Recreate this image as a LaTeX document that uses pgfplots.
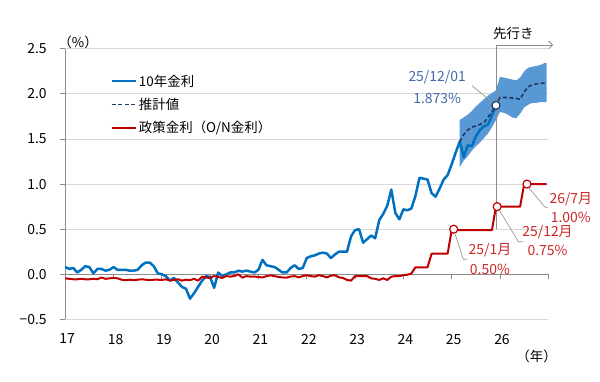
\documentclass[border=0pt]{standalone}
\usepackage{fontspec}
\setmainfont{Noto Sans CJK JP}
\usepackage{pgfplots}
\pgfplotsset{compat=1.18}
\usepgfplotslibrary{fillbetween}
\usetikzlibrary{arrows.meta}
\definecolor{lineblue}{RGB}{0,112,192}
\definecolor{bandblue}{RGB}{88,152,212}
\definecolor{navy}{RGB}{31,56,100}
\definecolor{polred}{RGB}{192,0,0}
\definecolor{txtred}{RGB}{204,40,40}
\definecolor{txtblue}{RGB}{70,105,170}
\definecolor{gridgray}{RGB}{217,217,217}
\definecolor{axgray}{RGB}{140,140,140}
\definecolor{leadgray}{RGB}{150,150,150}

\pgfplotstableread{
m v
0 0.08
1 0.06
2 0.07
3 0.02
4 0.05
5 0.09
6 0.08
7 0.01
8 0.06
9 0.06
10 0.04
11 0.05
12 0.08
13 0.05
14 0.05
15 0.05
16 0.04
17 0.04
18 0.05
19 0.10
20 0.13
21 0.13
22 0.09
23 0.01
24 0.00
25 -0.02
26 -0.07
27 -0.04
28 -0.09
29 -0.14
30 -0.16
31 -0.27
32 -0.21
33 -0.14
34 -0.07
35 -0.02
36 -0.03
37 -0.15
38 0.02
39 -0.02
40 0.00
41 0.02
42 0.02
43 0.04
44 0.03
45 0.04
46 0.03
47 0.02
48 0.05
49 0.16
50 0.10
51 0.09
52 0.08
53 0.05
54 0.02
55 0.02
56 0.07
57 0.10
58 0.06
59 0.07
60 0.18
61 0.20
62 0.21
63 0.23
64 0.24
65 0.23
66 0.18
67 0.22
68 0.25
69 0.25
70 0.25
71 0.42
72 0.49
73 0.50
74 0.35
75 0.39
76 0.43
77 0.40
78 0.60
79 0.67
80 0.76
81 0.94
82 0.68
83 0.61
84 0.72
85 0.71
86 0.73
87 0.87
88 1.07
89 1.06
90 1.05
91 0.90
92 0.86
93 0.95
94 1.05
95 1.10
96 1.22
97 1.35
98 1.47
99 1.30
100 1.43
101 1.42
102 1.53
103 1.60
104 1.64
105 1.66
106 1.76
107 1.873
}\tenyear

\pgfplotstableread{
m v lo up
98 1.47 1.19 1.71
99 1.55 1.26 1.74
100 1.60 1.31 1.77
101 1.63 1.37 1.81
102 1.645 1.42 1.86
103 1.66 1.46 1.90
104 1.68 1.51 1.94
105 1.74 1.56 1.98
106 1.80 1.63 2.01
107 1.873 1.71 2.04
108 1.96 1.80 2.19
109 1.96 1.79 2.18
110 1.96 1.77 2.17
111 1.955 1.74 2.16
112 1.95 1.73 2.15
113 1.94 1.78 2.18
114 2.02 1.85 2.25
115 2.08 1.88 2.29
116 2.10 1.90 2.30
117 2.11 1.90 2.31
118 2.12 1.91 2.32
119 2.12 1.91 2.34
119.6 2.12 1.91 2.34
}\forecast

\pgfplotstableread{
m v
0 -0.045
1 -0.05
2 -0.055
3 -0.055
4 -0.05
5 -0.055
6 -0.055
7 -0.05
8 -0.055
9 -0.035
10 -0.05
11 -0.045
12 -0.04
13 -0.045
14 -0.06
15 -0.065
16 -0.06
17 -0.065
18 -0.06
19 -0.055
20 -0.06
21 -0.065
22 -0.06
23 -0.06
24 -0.063
25 -0.055
26 -0.07
27 -0.063
28 -0.055
29 -0.07
30 -0.06
31 -0.065
32 -0.05
33 -0.07
34 -0.026
35 -0.037
36 -0.04
37 -0.019
38 -0.03
39 -0.04
40 -0.02
41 -0.026
42 -0.019
43 0.00
44 -0.037
45 -0.02
46 -0.026
47 -0.025
48 -0.03
49 -0.035
50 -0.02
51 -0.012
52 -0.02
53 -0.03
54 -0.035
55 -0.037
56 -0.025
57 -0.02
58 -0.034
59 -0.02
60 -0.01
61 -0.02
62 -0.026
63 -0.01
64 -0.02
65 -0.034
66 -0.015
67 -0.01
68 -0.034
69 -0.04
70 -0.063
71 -0.07
72 -0.02
73 -0.02
74 -0.02
75 -0.02
76 -0.045
77 -0.05
78 -0.063
79 -0.045
80 -0.063
81 -0.026
82 -0.02
83 -0.02
84 -0.01
85 -0.005
86 0.01
87 0.078
88 0.077
89 0.077
90 0.078
91 0.227
92 0.23
93 0.23
94 0.23
95 0.23
96 0.49
97 0.49
98 0.49
99 0.49
100 0.49
101 0.49
102 0.49
103 0.49
104 0.49
105 0.49
106 0.49
107 0.75
108 0.75
109 0.75
110 0.75
111 0.75
112 0.75
113 0.75
114 1.00
115 1.00
116 1.00
117 1.00
118 1.00
119 1.00
119.6 1.00
}\policy

\begin{document}
\begin{tikzpicture}
\begin{axis}[
  at={(65.2bp,62.6bp)}, anchor=south west,
  scale only axis, width=483.1bp, height=270.6bp,
  xmin=0, xmax=120, ymin=-0.5, ymax=2.5,
  clip=false,
  axis x line*=bottom, axis y line*=left,
  x axis line style={draw=none},
  y axis line style={axgray, line width=0.8bp},
  xtick={0,12,...,108},
  xticklabels={17,18,19,20,21,22,23,24,25,26},
  xtick style={draw=none},
  ytick={-0.5,0,0.5,1,1.5,2,2.5},
  yticklabels={−0.5,0.0,0.5,1.0,1.5,2.0,2.5},
  ytick style={axgray, line width=0.8bp},
  tick align=outside, major tick length=5bp,
  ymajorgrids, grid style={gridgray, line width=0.8bp},
  ticklabel style={font=\fontsize{14}{16}\selectfont, text=black},
  xticklabel style={xshift=2bp, yshift=-6bp},
  yticklabel style={xshift=-10bp},
  legend style={at={(0.0933,0.912)}, anchor=north west, draw=none, fill=none,
    font=\fontsize{13.5}{15}\selectfont, row sep=6.5bp, inner sep=0pt,
    nodes={inner sep=2bp}},
  legend cell align=left,
  legend image code/.code={\draw[#1] (0bp,0bp) -- (24bp,0bp);},
]
% zero axis line with ticks
\draw[axgray, line width=0.8bp] (axis cs:0,0) -- (axis cs:120,0);
\pgfplotsinvokeforeach{12,24,36,48,60,72,84,96,108,120}{
  \draw[axgray, line width=0.8bp] (axis cs:#1,0) -- ([yshift=-5bp]axis cs:#1,0);
}
% forecast band
\addplot[name path=up, draw=none, forget plot] table[x=m, y=up] {\forecast};
\addplot[name path=lo, draw=none, forget plot] table[x=m, y=lo] {\forecast};
\addplot[bandblue, forget plot] fill between[of=up and lo];
% forecast divider
\draw[axgray, line width=0.8bp, -{Straight Barb[length=4bp,width=8bp]}]
  (axis cs:107,0.5) -- (axis cs:107,2.542) -- (axis cs:121.2,2.542);
\node[font=\fontsize{13.5}{15}\selectfont] at (axis cs:111.3,2.665) {先行き};

\addplot[lineblue, line width=2.5bp, line join=round] table[x=m, y=v] {\tenyear};
\addlegendentry{10年金利}
\addplot[navy, line width=1.6bp, dash pattern=on 4bp off 2.5bp] table[x=m, y=v] {\forecast};
\addlegendentry{推計値}
\addplot[polred, line width=2bp, line join=round] table[x=m, y=v] {\policy};
\addlegendentry{政策金利（O/N金利）}

% leader lines
\draw[leadgray, line width=0.7bp] (axis cs:101.1,2.088) -- (axis cs:106.05,1.91);
\draw[leadgray, line width=0.7bp] (axis cs:96.85,0.447) -- (axis cs:98.9,0.166) -- (axis cs:99.9,0.166);
\draw[leadgray, line width=0.7bp] (axis cs:107.8,0.713) -- (axis cs:112.6,0.361) -- (axis cs:113.7,0.361);
\draw[leadgray, line width=0.7bp] (axis cs:115.2,0.957) -- (axis cs:119.2,0.743) -- (axis cs:120,0.743);

% markers
\addplot[only marks, mark=*, mark size=4bp, mark options={fill=white, draw=polred, line width=1.2bp}, forget plot]
  coordinates {(96.5,0.5) (107.3,0.75) (114.7,1.0)};
\addplot[only marks, mark=*, mark size=4bp, mark options={fill=white, draw=navy, line width=1.2bp}, forget plot]
  coordinates {(107,1.873)};

% annotations
\node[text=txtblue, font=\fontsize{14}{16}\selectfont] at (axis cs:92.4,2.187) {25/12/01};
\node[text=txtblue, font=\fontsize{14}{16}\selectfont] at (axis cs:92.4,1.954) {1.873\%};
\node[text=txtred, font=\fontsize{14}{16}\selectfont] at (axis cs:105.5,0.269) {25/1月};
\node[text=txtred, font=\fontsize{14}{16}\selectfont] at (axis cs:105.5,0.059) {0.50\%};
\node[text=txtred, font=\fontsize{14}{16}\selectfont] at (axis cs:119.8,0.472) {25/12月};
\node[text=txtred, font=\fontsize{14}{16}\selectfont] at (axis cs:119.8,0.269) {0.75\%};
\node[text=txtred, font=\fontsize{14}{16}\selectfont] at (axis cs:125.6,0.831) {26/7月};
\node[text=txtred, font=\fontsize{14}{16}\selectfont] at (axis cs:125.6,0.627) {1.00\%};

\node[font=\fontsize{13.5}{15}\selectfont] at (axis cs:3.2,2.57) {（\%）};
\node[font=\fontsize{13.5}{15}\selectfont] at (axis cs:117.1,-0.913) {（年）};
\end{axis}
\useasboundingbox (0,0) rectangle (600bp,382bp);
\end{tikzpicture}
\end{document}
